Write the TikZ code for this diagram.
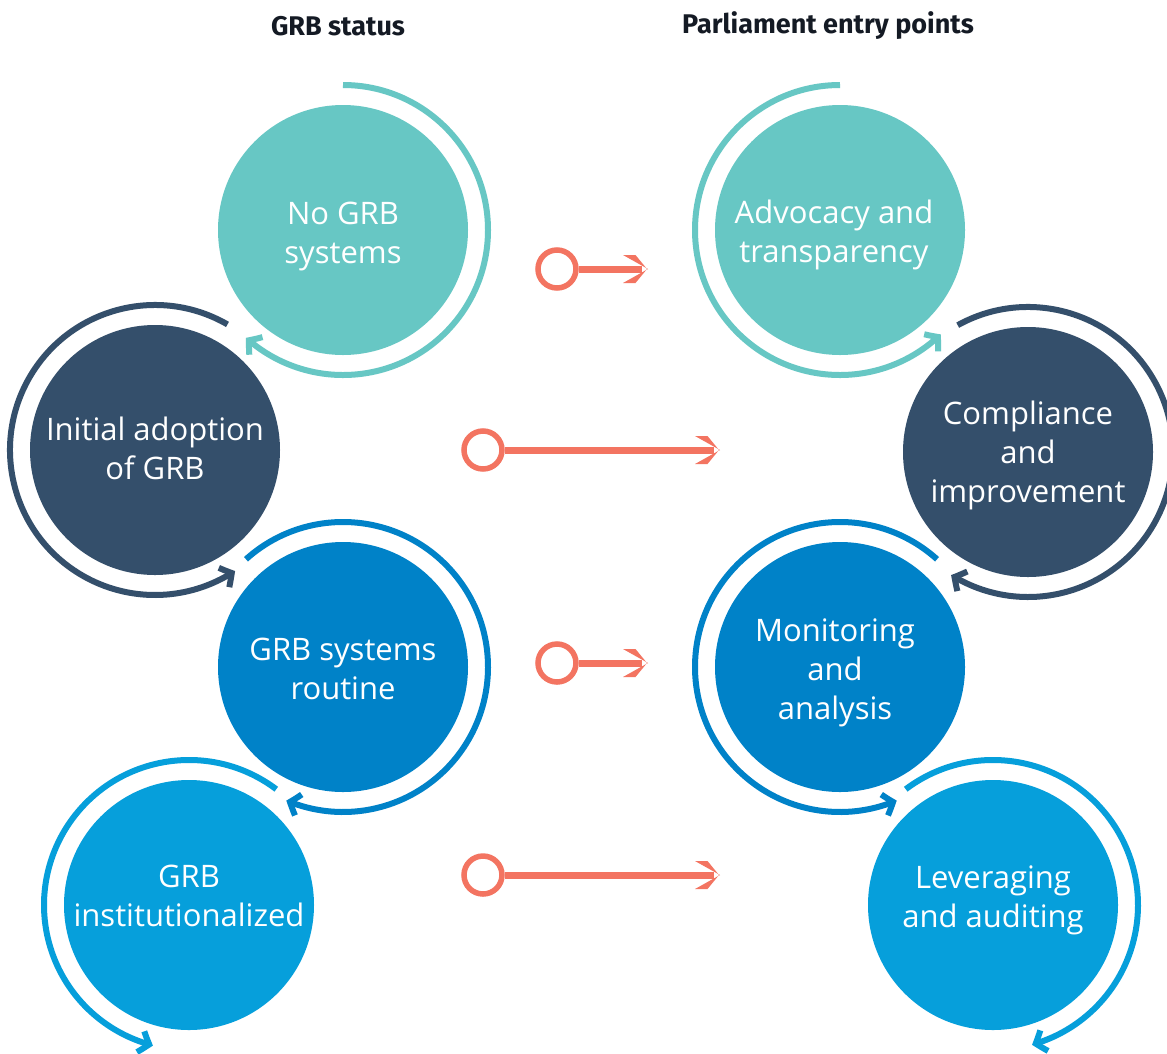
\documentclass[tikz,border=0pt]{standalone}
\usepackage{fontspec}
\setmainfont{Open Sans}
\newfontfamily\titlefont{Fira Sans}
\usetikzlibrary{arrows.meta,bending}
\definecolor{cteal}{HTML}{67C7C4}
\definecolor{cnavy}{HTML}{344F6B}
\definecolor{cblue}{HTML}{0082C8}
\definecolor{clight}{HTML}{069FDB}
\definecolor{corange}{HTML}{F37461}
\definecolor{ctitle}{HTML}{141A24}
\begin{document}
\begin{tikzpicture}[x=1pt,y=1pt,
  disc/.style={circle, inner sep=0pt, minimum size=250pt, draw=none},
  lbl/.style={text=white, align=center, font=\fontsize{31}{39}\selectfont},
  ringarc/.style={line width=6pt, -{Straight Barb[length=9pt,width=22pt,line width=6pt,bend]}},
  ring/.style={circle, draw=corange, line width=5.5pt, minimum size=38pt, inner sep=0pt},
  orline/.style={draw=corange, line width=7pt, shorten >=6pt},
  title/.style={text=ctitle, font=\titlefont\bfseries\fontsize{27}{30}\selectfont}
]
\useasboundingbox (0,0) rectangle (1167,-1053);
\fill[white] (0,0) rectangle (1167,-1053);

% titles
\node[title] (h1) at (338,-26) {GRB status};
\node[title] (h2) at (828,-26) {Parliament entry points};

% left column discs
\node[disc, fill=cteal]  (c1) at (343,-230) {};
\node[disc, fill=cnavy]  (c2) at (155,-450) {};
\node[disc, fill=cblue]  (c3) at (343,-667) {};
\node[disc, fill=clight] (c4) at (189,-905) {};
% right column discs
\node[disc, fill=cteal]  (c5) at (840,-230) {};
\node[disc, fill=cnavy]  (c6) at (1028,-452) {};
\node[disc, fill=cblue]  (c7) at (840,-667) {};
\node[disc, fill=clight] (c8) at (993,-905) {};

% labels
\node[lbl] (l1) at ([yshift=-6pt]c1.center) {No GRB\\systems};
\node[lbl] (l2) at ([yshift=2pt]c2.center) {Initial adoption\\of GRB};
\node[lbl] (l3) at ([yshift=-2pt]c3.center) {GRB systems\\routine};
\node[lbl] (l4) at ([yshift=9pt]c4.center) {GRB\\institutionalized};
\node[lbl] (l5) at ([xshift=-6pt,yshift=-5pt]c5.center) {Advocacy and\\transparency};
\node[lbl] (l6) at ([yshift=-3pt]c6.center) {Compliance\\and\\improvement};
\node[lbl] (l7) at ([xshift=-5pt,yshift=-6pt]c7.center) {Monitoring\\and\\analysis};
\node[lbl] (l8) at ([yshift=5pt]c8.center) {Leveraging\\and auditing};

% cycle arcs
\draw[ringarc, cteal]  (c1.center) ++(90:145)  arc[start angle=90,  end angle=-132,  radius=145pt];
\draw[ringarc, cnavy]  (c2.center) ++(60:145)  arc[start angle=60,  end angle=303.5, radius=145pt];
\draw[ringarc, cblue]  (c3.center) ++(132:145) arc[start angle=132, end angle=-113,  radius=145pt];
\draw[ringarc, clight] (c4.center) ++(53:145)  arc[start angle=53,  end angle=255.6, radius=145pt];
\draw[ringarc, cteal]  (c5.center) ++(90:145)  arc[start angle=90,  end angle=314,   radius=145pt];
\draw[ringarc, cnavy]  (c6.center) ++(119:145) arc[start angle=119, end angle=-122,  radius=145pt];
\draw[ringarc, cblue]  (c7.center) ++(48:145)  arc[start angle=48,  end angle=293,   radius=145pt];
\draw[ringarc, clight] (c8.center) ++(127:145) arc[start angle=127, end angle=-74.4, radius=145pt];

% orange connectors
\node[ring] (o1) at (557,-269) {};
\node[ring] (o2) at (483,-450) {};
\node[ring] (o3) at (557,-663) {};
\node[ring] (o4) at (483,-875) {};
\coordinate (e1) at (648,-269);
\coordinate (e2) at (720,-450);
\coordinate (e3) at (648,-663);
\coordinate (e4) at (720,-875);
\draw[orline] (o1) -- (e1);
\draw[orline] (o2) -- (e2);
\draw[orline] (o3) -- (e3);
\draw[orline] (o4) -- (e4);
\foreach \e in {e1,e2,e3,e4}{
  \fill[corange] (\e) -- ++(-25pt,14pt) -- ++(12.5pt,0pt) -- ++(11.5pt,-14pt) -- ++(-11.5pt,-14pt) -- ++(-12.5pt,0pt) -- cycle;
}
\end{tikzpicture}
\end{document}
